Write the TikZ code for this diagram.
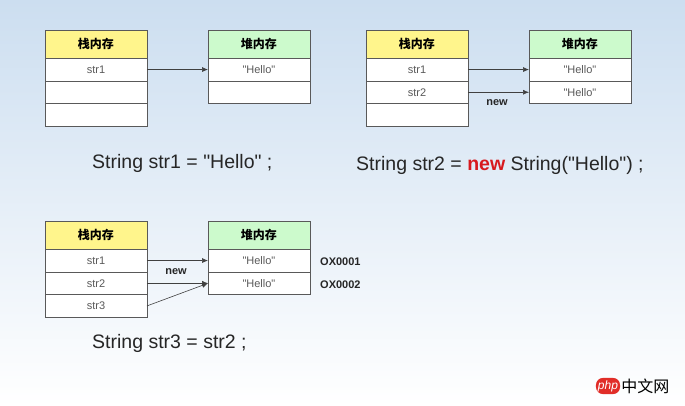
\documentclass[tikz,border=0pt]{standalone}
\usepackage{fontspec}
\setmainfont{Liberation Sans}[Ligatures=TeXOff]
\newfontfamily\cjk{Noto Sans CJK SC}
\usetikzlibrary{arrows.meta}

\definecolor{stackyellow}{RGB}{255,245,140}
\definecolor{heapgreen}{RGB}{204,250,204}
\definecolor{skyblue}{RGB}{204,222,240}
\definecolor{keyred}{RGB}{215,25,30}
\definecolor{phpred}{RGB}{225,45,40}

\tikzset{
  cell/.style={draw=black!65, fill=white, anchor=north west, inner sep=0pt,
    minimum width=101.5pt, minimum height=22.7pt, text=black!65,
    font=\fontsize{11}{11}\selectfont},
  stackhead/.style={cell, fill=stackyellow, minimum height=28pt, text=black,
    font=\cjk\bfseries\fontsize{12}{12}\selectfont},
  heaphead/.style={stackhead, fill=heapgreen},
  ref/.style={draw=black!75, line width=0.6pt, -{Latex[length=6pt,width=5pt]}},
  code/.style={anchor=west, inner sep=0pt, text=black!85, font=\fontsize{19.5}{19.5}\selectfont},
  tag/.style={inner sep=0pt, font=\bfseries\fontsize{11}{11}\selectfont, text=black!85}
}

\begin{document}
\begin{tikzpicture}[x=1pt,y=-1pt]
  \shade[top color=skyblue, bottom color=white, middle color=skyblue!50] (0,0) rectangle (685,406);
  \useasboundingbox (0,0) rectangle (685,406);

  % String str1 = "Hello" ;
  \node[stackhead] (a0) at (45,30) {栈内存};
  \foreach \t [count=\i] in {str1,{},{}}
    \node[cell] (a\i) at (45,35.3+22.7*\i) {\t};
  \node[heaphead] (ha0) at (208,30) {堆内存};
  \foreach \t [count=\i] in {"Hello",{}}
    \node[cell] (ha\i) at (208,35.3+22.7*\i) {\t};
  \draw[ref] (a1) -- (ha1);
  \node[code] (codeA) at (92,163) {String str1 = "Hello" ;};

  % String str2 = new String("Hello") ;
  \node[stackhead] (b0) at (366,30) {栈内存};
  \foreach \t [count=\i] in {str1,str2,{}}
    \node[cell] (b\i) at (366,35.3+22.7*\i) {\t};
  \node[heaphead] (hb0) at (529,30) {堆内存};
  \foreach \t [count=\i] in {"Hello","Hello"}
    \node[cell] (hb\i) at (529,35.3+22.7*\i) {\t};
  \draw[ref] (b1) -- (hb1);
  \draw[ref] (b2) -- (hb2);
  \node[tag] (newB) at (497,103) {new};
  \node[code] (codeB) at (356,165) {String str2 = \textbf{\color{keyred}new} String("Hello") ;};

  % String str3 = str2 ;
  \node[stackhead] (c0) at (45,221) {栈内存};
  \foreach \t [count=\i] in {str1,str2,str3}
    \node[cell] (c\i) at (45,226.3+22.7*\i) {\t};
  \node[heaphead] (hc0) at (208,221) {堆内存};
  \foreach \t [count=\i] in {"Hello","Hello"}
    \node[cell] (hc\i) at (208,226.3+22.7*\i) {\t};
  \draw[ref] (c1) -- (hc1);
  \draw[ref] (c2) -- (hc2);
  \draw[ref] (c3.east) -- (hc2.west);
  \node[tag] (newC) at (176,272) {new};
  \node[tag, anchor=west] (addr1) at (320,262) {OX0001};
  \node[tag, anchor=west] (addr2) at (320,285) {OX0002};
  \node[code] (codeC) at (92,343) {String str3 = str2 ;};

  % watermark
  \node[fill=phpred, text=white, rounded corners=7pt, inner xsep=2pt, inner ysep=2.5pt,
    font=\itshape\fontsize{12}{12}\selectfont] (php) at (608,386) {php};
  \node[anchor=west, inner sep=1pt, font=\cjk\fontsize{16}{16}\selectfont] (site) at (php.east) {中文网};
\end{tikzpicture}
\end{document}
